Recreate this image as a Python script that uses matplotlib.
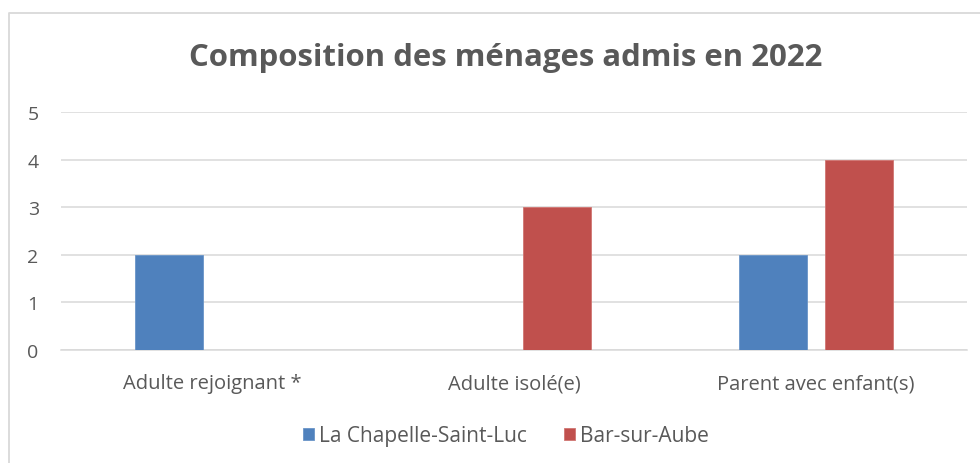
import numpy as np
import matplotlib.pyplot as plt
from matplotlib.lines import Line2D

categories = ['Adulte rejoignant *', 'Adulte isolé(e)', 'Parent avec enfant(s)']
series_names = ['La Chapelle-Saint-Luc', 'Bar-sur-Aube']
chapelle = [2, 0, 2]
bar_aube = [0, 3, 4]
y_ticks = [0, 1, 2, 3, 4, 5]

BLUE = '#4F81BD'
RED = '#C0504D'
TEXT = '#595959'
GRID = '#D9D9D9'

plt.rcParams['font.family'] = ['Open Sans', 'DejaVu Sans']

fig = plt.figure(figsize=(9.8, 4.64), dpi=100)
ax = fig.add_axes([0.0622, 0.2442, 0.9245, 0.5116])

x = np.arange(len(categories))
width = 0.2235
offset = 0.1417
ax.bar(x - offset, chapelle, width, color=BLUE, edgecolor='#6A95C8', linewidth=0.6,
       label=series_names[0], zorder=3)
ax.bar(x + offset, bar_aube, width, color=RED, edgecolor='#D07572', linewidth=0.6,
       label=series_names[1], zorder=3)

ax.set_xlim(-0.5, len(categories) - 0.5)
ax.set_ylim(0, 5)
ax.set_yticks(y_ticks)
ax.set_xticks(x)
ax.set_xticklabels(categories)
ax.tick_params(axis='both', length=0, colors=TEXT, labelsize=14.5)
ax.tick_params(axis='y', labelsize=14, pad=16)
ax.tick_params(axis='x', pad=17)

ax.yaxis.grid(True, color=GRID, linewidth=1.1, zorder=0)
ax.set_axisbelow(True)
for s in ['top', 'right', 'left']:
    ax.spines[s].set_visible(False)
ax.spines['bottom'].set_color(GRID)
ax.spines['bottom'].set_linewidth(1.1)

fig.text(0.516, 1 - 58 / 464, 'Composition des ménages admis en 2022',
         ha='center', va='center', fontsize=22.4, fontweight='bold', color=TEXT)

fig.legend(loc='center', bbox_to_anchor=(0.516, 1 - 437 / 464), ncol=2, frameon=False,
           handlelength=0.55, handleheight=0.55, handletextpad=0.2, columnspacing=1.8,
           fontsize=15, labelcolor=TEXT)

# chart border (left and top edges only visible)
fig.add_artist(Line2D([9 / 980, 9 / 980, 1.0], [0.0, 1 - 14 / 464, 1 - 14 / 464],
                      transform=fig.transFigure, color=GRID, linewidth=1.3))

fig.savefig('out.png', dpi=100)
